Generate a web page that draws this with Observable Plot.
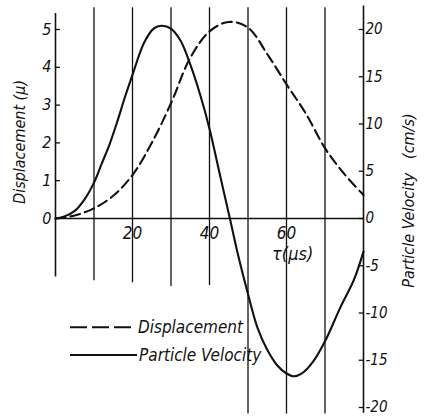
<!DOCTYPE html>
<html>
<head>
<meta charset="utf-8">
<script src="https://cdn.jsdelivr.net/npm/d3@7"></script>
<script src="https://cdn.jsdelivr.net/npm/@observablehq/plot@0.6"></script>
<style>
  html, body { margin: 0; padding: 0; background: #fff; }
</style>
</head>
<body>
<div id="chart"></div>
<script>
// ---- data ----
const tauDisp = [0, 5, 10, 15, 20, 25, 30, 35, 40, 45, 50, 55, 60, 65, 70, 75, 80];
const displacement = [0, 0.08, 0.27, 0.6, 1.15, 2.0, 3.05, 4.25, 4.95, 5.2, 5.05, 4.35, 3.55, 2.78, 1.86, 1.18, 0.62];

const tauVel = [0, 2.5, 5, 7.5, 10, 12, 14, 16, 18, 20, 23, 25.5, 27.5, 30, 32.5, 35, 37.5, 40, 42.5, 45.3, 47.5, 50, 52.5, 55, 57.5, 60, 62, 64, 67, 70, 74, 77.5, 80];
const velocity = [0, 0.25, 0.8, 2.0, 3.8, 5.8, 7.8, 10.2, 12.8, 15.2, 18.6, 20.1, 20.4, 20.1, 18.8, 16.3, 13.2, 9.5, 5.0, 0, -4.0, -8.0, -11.6, -13.9, -15.5, -16.4, -16.7, -16.4, -15.1, -13.0, -9.4, -6.5, -3.5];

const dispTicks = [0, 1, 2, 3, 4, 5];
const velTicks = [-20, -15, -10, -5, 0, 5, 10, 15, 20];
const tauTicks = [20, 40, 60];
const gridTau = [10, 20, 30, 40, 50, 60, 70];
const gridBottom = [-6.6, -6.8, -7.2, -7.1, -20.7, -20.7, -20.7];
const dispPerVel = 4; // 5 μ on the left axis = 20 cm/s on the right axis

const legendLabels = ["Displacement", "Particle Velocity"];

// ---- tables ----
const dispData = tauDisp.map((t, i) => ({t, v: displacement[i] * dispPerVel}));
const velData = tauVel.map((t, i) => ({t, v: velocity[i]}));
const grid = gridTau.map((t, i) => ({t, bottom: gridBottom[i]}));

const FONT = "'Liberation Sans Narrow', 'DejaVu Sans Condensed', 'Liberation Sans', sans-serif";
const txt = {fontFamily: FONT, fontStyle: "italic", fill: "#111"};

const chart = Plot.plot({
  width: 427,
  height: 416,
  margin: 0,
  x: {domain: [0, 80], range: [55, 363], axis: null},
  y: {domain: [-20, 20], range: [407, 29], axis: null},
  style: {background: "#fff", fontFamily: FONT},
  marks: [
    // vertical grid lines
    Plot.ruleX(grid, {x: "t", y1: 22.3, y2: "bottom", stroke: "#111", strokeWidth: 1.3}),
    // left axis
    Plot.ruleX([0], {y1: 21.7, y2: -6.2, stroke: "#111", strokeWidth: 1.6}),
    Plot.ruleY(dispTicks, {y: d => d * dispPerVel, x1: 0, x2: 1.3, stroke: "#111", strokeWidth: 1.3}),
    Plot.text(dispTicks, {x: 0, y: d => d * dispPerVel, text: d => String(d), dx: -4, textAnchor: "end", fontSize: 16, ...txt}),
    // right axis
    Plot.ruleX([80], {y1: 22.5, y2: -20.6, stroke: "#111", strokeWidth: 1.6}),
    Plot.ruleY(velTicks, {y: d => d, x1: 78.9, x2: 80, stroke: "#111", strokeWidth: 1.3}),
    Plot.text(velTicks, {x: 80, y: d => d, text: d => d < 0 ? "-" + Math.abs(d) : String(d), dx: 2, textAnchor: "start", fontSize: 15, ...txt}),
    // zero line (time axis)
    Plot.ruleY([0], {x1: 0, x2: 80, stroke: "#111", strokeWidth: 1.6}),
    Plot.text(tauTicks, {x: d => d, y: 0, text: d => String(d), dy: 15, fontSize: 17, ...txt}),
    Plot.text(["τ(μs)"], {x: 61.6, y: -3.8, text: d => d, fontSize: 18, ...txt}),
    // axis titles
    Plot.text(["Displacement (μ)"], {x: -9.2, y: 8.1, text: d => d, rotate: -90, fontSize: 16, ...txt}),
    Plot.text(["Particle Velocity   (cm/s)"], {x: 91.9, y: 1.9, text: d => d, rotate: -90, fontSize: 16, ...txt}),
    // curves
    Plot.line(dispData, {x: "t", y: "v", curve: "catmull-rom", stroke: "#111", strokeWidth: 2.1, strokeDasharray: "10,5"}),
    Plot.line(velData, {x: "t", y: "v", curve: "catmull-rom", stroke: "#111", strokeWidth: 2.1}),
    // legend
    Plot.ruleY([-11.5], {x1: 3.9, x2: 20.5, stroke: "#111", strokeWidth: 2, strokeDasharray: "17,5"}),
    Plot.ruleY([-14.45], {x1: 3.9, x2: 21.3, stroke: "#111", strokeWidth: 2}),
    Plot.text([legendLabels[0]], {x: 21.4, y: -11.5, text: d => d, textAnchor: "start", fontSize: 17, ...txt}),
    Plot.text([legendLabels[1]], {x: 21.7, y: -14.45, text: d => d, textAnchor: "start", fontSize: 17, ...txt})
  ]
});
document.getElementById("chart").appendChild(chart);
</script>
</body>
</html>
